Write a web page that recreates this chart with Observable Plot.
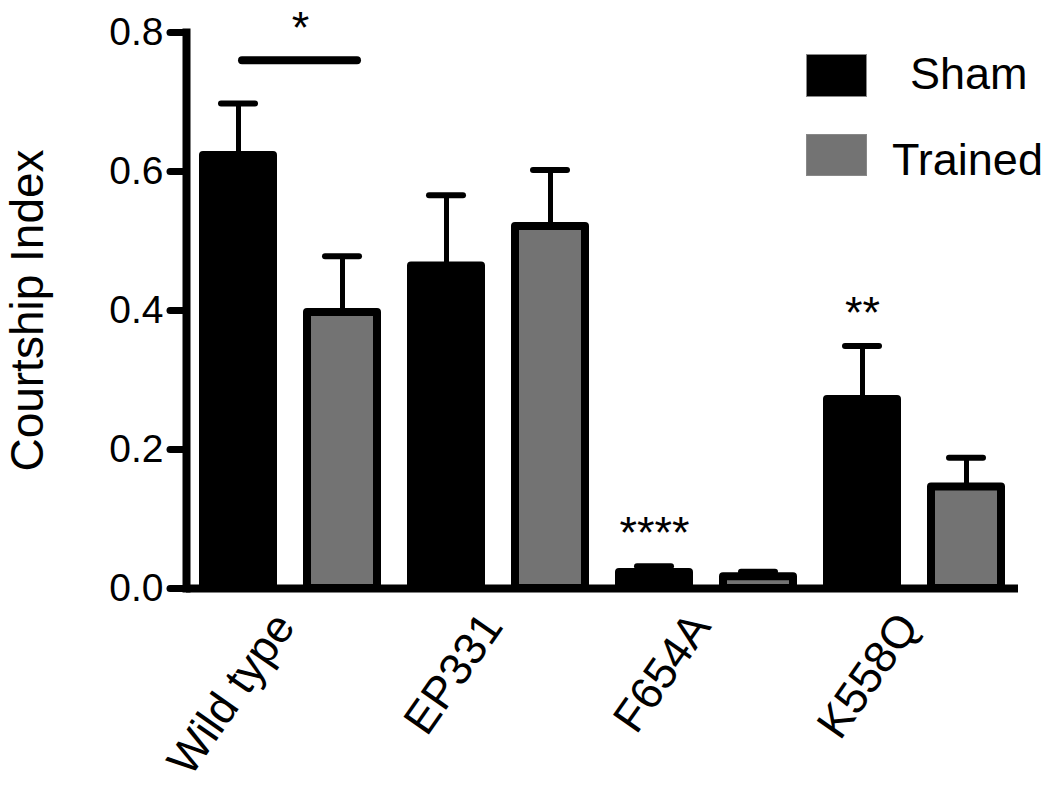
<!DOCTYPE html>
<html>
<head>
<meta charset="utf-8">
<script src="https://cdn.jsdelivr.net/npm/d3@7"></script>
<script src="https://cdn.jsdelivr.net/npm/@observablehq/plot@0.6"></script>
<style>
  html, body { margin: 0; padding: 0; background: #fff; }
  #wrap { position: relative; width: 1050px; height: 802px; font-family: "Liberation Sans", Arial, sans-serif; }
  .sw { position: absolute; }
  .lt { position: absolute; font-size: 45px; line-height: 45px; color: #000; white-space: nowrap; }
</style>
</head>
<body>
<div id="wrap"></div>
<script>
// ---- data ----
const groups = ["Wild type", "EP331", "F654A", "K558Q"];
const series = ["Sham", "Trained"];
const shamMean = [0.623, 0.464, 0.023, 0.272];
const shamSem = [0.075, 0.102, 0.009, 0.077];
const trainedMean = [0.397, 0.521, 0.017, 0.146];
const trainedSem = [0.081, 0.081, 0.007, 0.042];
const yTicks = [0, 0.2, 0.4, 0.6, 0.8];
const seriesColors = ["#000000", "#737373"];
const yLabel = "Courtship Index";
// significance marks above single bars (Sham)
const sigGroups = ["F654A", "K558Q"];
const sigLabels = ["****", "**"];
// pairwise significance bar
const pairGroups = ["Wild type"];
const pairY = [0.76];
const pairLabels = ["*"];

const rows = groups.flatMap((g, i) => [
  {group: g, series: "Sham", mean: shamMean[i], sem: shamSem[i]},
  {group: g, series: "Trained", mean: trainedMean[i], sem: trainedSem[i]}
]);
const sigRows = sigGroups.map((g, i) => {
  const r = rows.find(d => d.group === g && d.series === "Sham");
  return {group: g, series: "Sham", y: r.mean + r.sem, label: sigLabels[i]};
});
const pairRows = pairGroups.map((g, i) => ({group: g, y: pairY[i], label: pairLabels[i]}));

const font = "'Liberation Sans', Arial, sans-serif";

const chart = Plot.plot({
  width: 1050,
  height: 802,
  marginTop: 32,
  marginBottom: 214,
  marginLeft: 186,
  marginRight: 32,
  style: {fontFamily: font, background: "#fff", color: "#000", overflow: "visible"},
  fx: {domain: groups, paddingInner: 0, paddingOuter: 0, label: null},
  x: {domain: series, paddingInner: 0.25, paddingOuter: 0.125, axis: null},
  y: {domain: [0, 0.8], axis: null},
  color: {domain: series, range: seriesColors},
  marks: [
    Plot.ruleX(rows, {fx: "group", x: "series", y1: "mean", y2: d => d.mean + d.sem, stroke: "#000", strokeWidth: 5}),
    Plot.tickY(rows, {fx: "group", x: "series", y: d => d.mean + d.sem, stroke: "#000", strokeWidth: 6, strokeLinecap: "round", insetLeft: 22, insetRight: 22}),
    Plot.barY(rows, {fx: "group", x: "series", y: "mean", fill: "series", stroke: "#000", strokeWidth: 8, strokeLinejoin: "round", insetLeft: 4, insetRight: 4}),
    Plot.ruleY([0], {stroke: "#000", strokeWidth: 8}),
    Plot.frame({anchor: "left", facetAnchor: "left", stroke: "#000", strokeWidth: 8}),
    Plot.axisY({ticks: yTicks, tickFormat: d3.format(".1f"), tickSize: 16, tickPadding: 7, fontSize: 39, strokeWidth: 7, strokeLinecap: "round", label: null}),
    Plot.axisY({ticks: [], tickSize: 0, label: yLabel, labelAnchor: "center", labelArrow: "none", labelOffset: 176, fontSize: 46}),
    Plot.axisFx({anchor: "bottom", tickRotate: -55, tickSize: 0, tickPadding: 30, dx: -6, fontSize: 45, label: null, textAnchor: "end", lineAnchor: "middle"}),
    Plot.text(sigRows, {fx: "group", x: "series", y: "y", text: "label", fontSize: 45, lineAnchor: "bottom", dy: -18, fill: "#000"}),
    Plot.ruleY(pairRows, {fx: "group", y: "y", stroke: "#000", strokeWidth: 8, strokeLinecap: "round", insetLeft: 56, insetRight: 37}),
    Plot.text(pairRows, {fx: "group", y: "y", text: "label", fontSize: 45, lineAnchor: "bottom", dy: -17, dx: 10, fill: "#000"})
  ]
});

const wrap = document.getElementById("wrap");
wrap.appendChild(chart);

// legend (overlaid top-right)
const legendItems = [
  {name: series[0], color: seriesColors[0], swTop: 54, swH: 43, textLeft: 910, textTop: 51},
  {name: series[1], color: seriesColors[1], swTop: 134, swH: 42, textLeft: 892, textTop: 137}
];
for (const it of legendItems) {
  const sw = document.createElement("div");
  sw.className = "sw";
  sw.style.left = "806px";
  sw.style.top = it.swTop + "px";
  sw.style.width = "61px";
  sw.style.height = it.swH + "px";
  sw.style.background = it.color;
  sw.style.boxSizing = "border-box";
  sw.style.border = "1px solid #888";
  wrap.appendChild(sw);
  const t = document.createElement("div");
  t.className = "lt";
  t.style.left = it.textLeft + "px";
  t.style.top = it.textTop + "px";
  t.textContent = it.name;
  wrap.appendChild(t);
}
</script>
</body>
</html>
